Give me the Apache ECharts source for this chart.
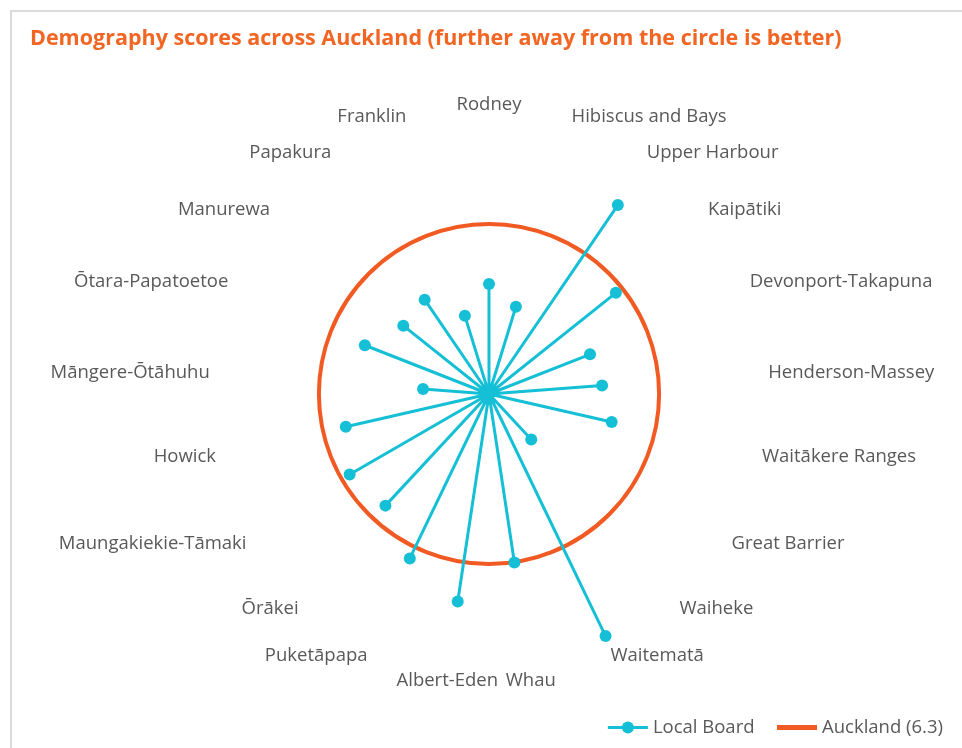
<!DOCTYPE html>
<html>
<head>
<meta charset="utf-8">
<title>Demography scores across Auckland</title>
<script src="https://cdn.jsdelivr.net/npm/echarts@6/dist/echarts.min.js"></script>
<style>
    html, body { margin: 0; padding: 0; background: #fff; }
    #frame {
        position: absolute; left: 10px; top: 10px;
        width: 1000px; height: 800px;
        border: 2px solid #dadada;
    }
    #chart-container {
        position: absolute; left: 0; top: 0;
        width: 962px; height: 748px;
    }
</style>
</head>
<body>
<div id="frame"></div>
<div id="chart-container"></div>
<script>
    'use strict';

    // local boards, clockwise from the top
    var boards = [
        'Rodney', 'Hibiscus and Bays', 'Upper Harbour', 'Kaipātiki',
        'Devonport-Takapuna', 'Henderson-Massey', 'Waitākere Ranges',
        'Great Barrier', 'Waiheke', 'Waitematā', 'Whau', 'Albert-Eden',
        'Puketāpapa', 'Ōrākei', 'Maungakiekie-Tāmaki', 'Howick',
        'Māngere-Ōtāhuhu', 'Ōtara-Papatoetoe', 'Manurewa', 'Papakura', 'Franklin'
    ];

    // demography score per board (Great Barrier has none, sits at the centre)
    var scores = [
        4.07, 3.38, 8.47, 6.01,
        4.02, 4.2, 4.66,
        0, 2.3, 9.95, 6.31, 7.77,
        6.76, 5.64, 5.96, 5.44,
        2.45, 4.94, 4.06, 4.23, 3.03
    ];

    var aucklandScore = 6.3;
    var aucklandName = 'Auckland (' + aucklandScore + ')';

    var TEAL = '#15bfd5';
    var ORANGE = '#f15a22';
    var GREY = '#595959';
    var FONT = '"Open Sans", sans-serif';

    // spokes: centre -> score -> centre -> next score ...
    var spokes = [];
    boards.forEach(function(name, i) {
        spokes.push([0, i]);
        spokes.push([scores[i], i]);
    });

    var chart = echarts.init(document.getElementById('chart-container'));

    chart.setOption({
        animation: false,
        title: {
            text: 'Demography scores across Auckland (further away from the circle is better)',
            left: 25,
            top: 23,
            textStyle: {
                color: '#f26522',
                fontFamily: FONT,
                fontWeight: 'bold',
                fontSize: 21.5
            }
        },
        legend: {
            right: 14,
            bottom: 6,
            itemWidth: 40,
            itemHeight: 15,
            itemGap: 20,
            data: [
                { name: 'Local Board', lineStyle: { width: 3 } },
                { name: aucklandName, itemStyle: { opacity: 0 }, lineStyle: { width: 5, color: ORANGE } }
            ],
            textStyle: { color: GREY, fontFamily: FONT, fontSize: 18.5 }
        },
        polar: {
            center: [489, 394],
            radius: 270
        },
        radiusAxis: {
            min: 0,
            max: 10,
            axisLine: { show: false },
            axisTick: { show: false },
            axisLabel: { show: false },
            splitLine: { show: false }
        },
        angleAxis: {
            type: 'value',
            min: 0,
            max: boards.length,
            interval: 1,
            startAngle: 90,
            clockwise: true,
            axisLine: { show: false },
            axisTick: { show: false },
            splitLine: { show: false },
            axisLabel: {
                margin: 10,
                color: GREY,
                fontFamily: FONT,
                fontSize: 18.5,
                formatter: function(v) {
                    return boards[v] || '';
                }
            }
        },
        series: [
            {
                // only here so the legend gets a plain thick line
                type: 'line',
                name: aucklandName,
                coordinateSystem: 'polar',
                data: [],
                symbol: 'none',
                itemStyle: { color: ORANGE },
                lineStyle: { color: ORANGE, width: 5 }
            },
            {
                // the Auckland average, drawn as a true circle
                type: 'custom',
                name: aucklandName,
                coordinateSystem: 'polar',
                z: 1,
                data: [[aucklandScore, 0]],
                renderItem: function(params, api) {
                    var c = api.coord([0, 0]);
                    var p = api.coord([api.value(0), 0]);
                    var r = Math.sqrt(Math.pow(p[0] - c[0], 2) + Math.pow(p[1] - c[1], 2));
                    return {
                        type: 'circle',
                        shape: { cx: c[0], cy: c[1], r: r },
                        style: { fill: 'none', stroke: ORANGE, lineWidth: 4 }
                    };
                }
            },
            {
                type: 'line',
                name: 'Local Board',
                coordinateSystem: 'polar',
                z: 3,
                data: spokes,
                symbol: 'circle',
                symbolSize: 12,
                itemStyle: { color: TEAL },
                lineStyle: { color: TEAL, width: 3 }
            }
        ]
    });
</script>
</body>
</html>
